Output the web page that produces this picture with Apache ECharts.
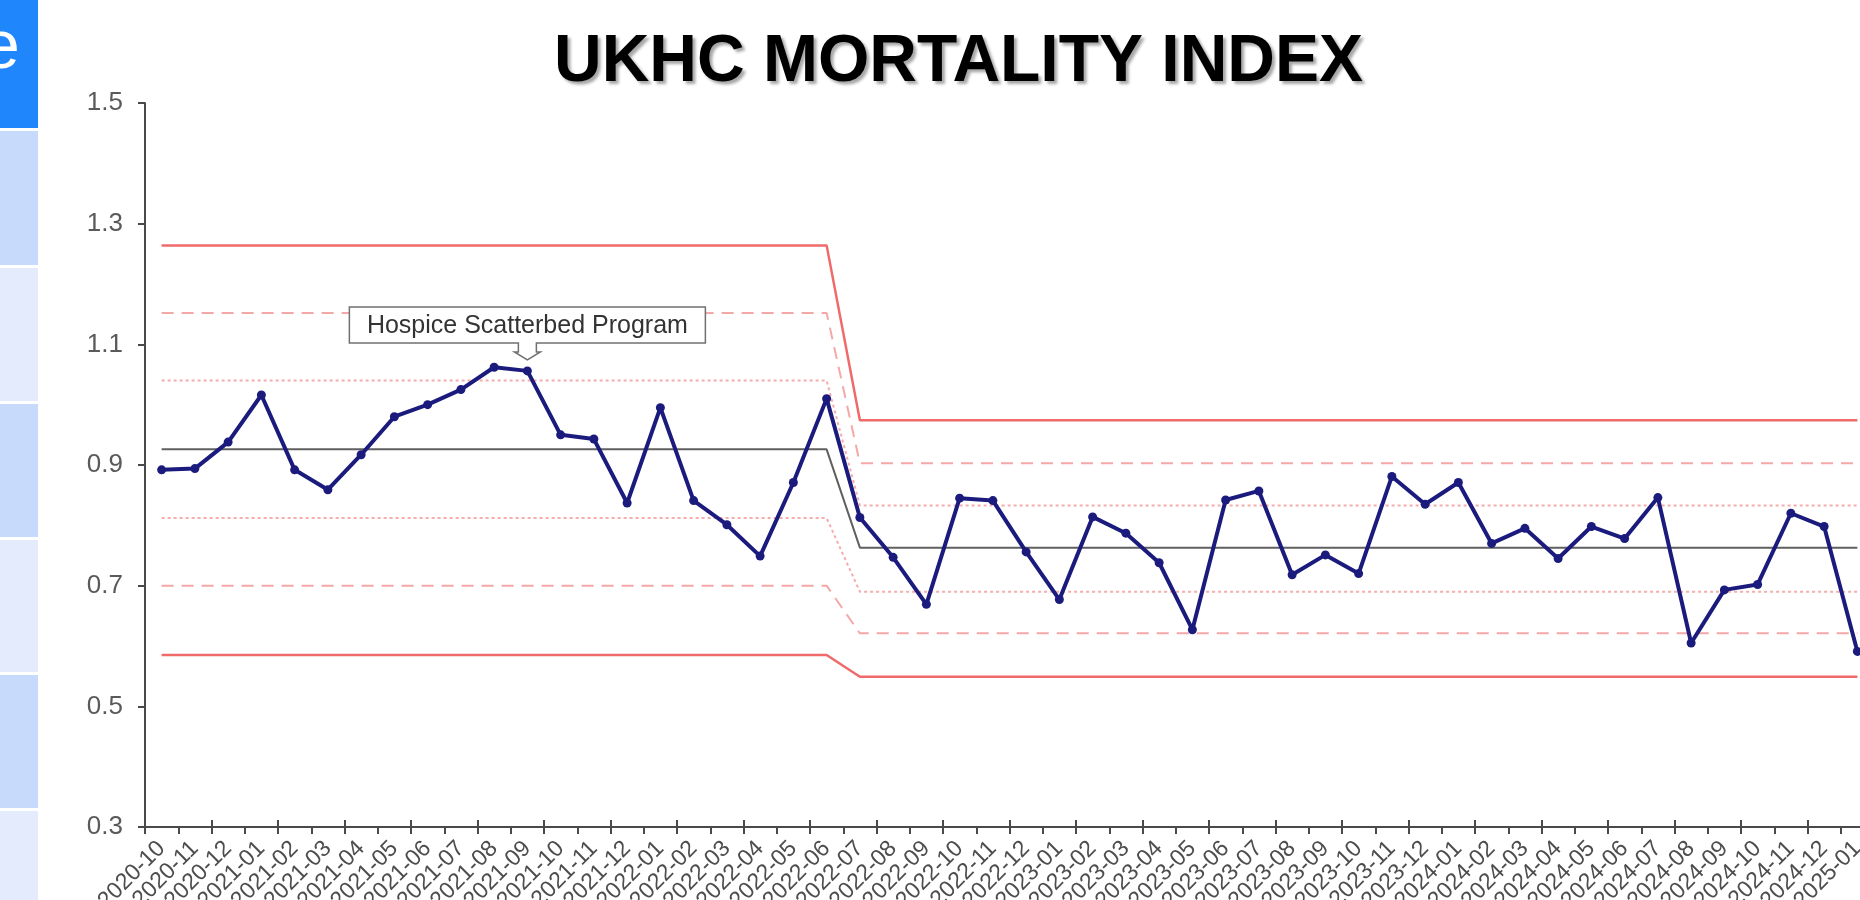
<!DOCTYPE html>
<html lang="en">

<head>
	<meta charset="UTF-8">
	<title>UKHC Mortality Index</title>
	<script src="https://cdn.jsdelivr.net/npm/echarts@6/dist/echarts.min.js"></script>
	<style>
		html, body { margin: 0; padding: 0; background: #fff; overflow: hidden; }
	</style>
</head>

<body>
	<div id="main" style="width: 1860px;height: 900px;"></div>

	<script>
		// months on the x axis
		const months = [
			'2020-10', '2020-11', '2020-12',
			'2021-01', '2021-02', '2021-03', '2021-04', '2021-05', '2021-06',
			'2021-07', '2021-08', '2021-09', '2021-10', '2021-11', '2021-12',
			'2022-01', '2022-02', '2022-03', '2022-04', '2022-05', '2022-06',
			'2022-07', '2022-08', '2022-09', '2022-10', '2022-11', '2022-12',
			'2023-01', '2023-02', '2023-03', '2023-04', '2023-05', '2023-06',
			'2023-07', '2023-08', '2023-09', '2023-10', '2023-11', '2023-12',
			'2024-01', '2024-02', '2024-03', '2024-04', '2024-05', '2024-06',
			'2024-07', '2024-08', '2024-09', '2024-10', '2024-11', '2024-12',
			'2025-01'
		];
		// mortality index, one value per month
		const mortality = [
			0.892, 0.894, 0.938,
			1.016, 0.892, 0.859, 0.917, 0.980, 1.000,
			1.025, 1.062, 1.056, 0.950, 0.943, 0.837,
			0.995, 0.841, 0.801, 0.749, 0.871, 1.010,
			0.813, 0.747, 0.669, 0.845, 0.841, 0.756,
			0.677, 0.814, 0.787, 0.738, 0.627, 0.842,
			0.857, 0.718, 0.751, 0.720, 0.881, 0.835,
			0.871, 0.770, 0.795, 0.745, 0.798, 0.778,
			0.846, 0.605, 0.693, 0.702, 0.820, 0.798,
			0.591
		];

		// control limits, one value per phase (phase 2 starts at 2022-07)
		const phase2Start = '2022-07';
		const centerLine = [0.926, 0.763];
		const upperLimit = [1.264, 0.974];
		const upper2Sigma = [1.152, 0.903];
		const upper1Sigma = [1.040, 0.833];
		const lower1Sigma = [0.812, 0.690];
		const lower2Sigma = [0.700, 0.621];
		const lowerLimit = [0.585, 0.549];

		const yTicks = [0.3, 0.5, 0.7, 0.9, 1.1, 1.3, 1.5];

		const annotationText = 'Hospice Scatterbed Program';
		const annotationMonth = '2021-09';

		const FONT = '"Liberation Sans", Arial, sans-serif';

		function byPhase(vals) {
			return months.map(function (m) {
				return m >= phase2Start ? vals[1] : vals[0];
			});
		}

		function limitSeries(name, vals, color, type, width) {
			return {
				name: name,
				type: 'line',
				data: byPhase(vals),
				symbol: 'none',
				silent: true,
				z: 2,
				lineStyle: { color: color, width: width, type: type }
			};
		}

		var chartDom = document.getElementById('main');
		var myChart = echarts.init(chartDom, null, { renderer: 'canvas' });

		// slide sidebar on the left edge
		const sidebar = [
			{ id: 'sb0', type: 'rect', shape: { x: 0, y: 0, width: 38, height: 128 }, style: { fill: '#1f86fb' }, silent: true },
			{ id: 'sb1', type: 'rect', shape: { x: 0, y: 131, width: 38, height: 134 }, style: { fill: '#c8dafc' }, silent: true },
			{ id: 'sb2', type: 'rect', shape: { x: 0, y: 268, width: 38, height: 133 }, style: { fill: '#e3ebfd' }, silent: true },
			{ id: 'sb3', type: 'rect', shape: { x: 0, y: 404, width: 38, height: 133 }, style: { fill: '#c8dafc' }, silent: true },
			{ id: 'sb4', type: 'rect', shape: { x: 0, y: 540, width: 38, height: 132 }, style: { fill: '#e3ebfd' }, silent: true },
			{ id: 'sb5', type: 'rect', shape: { x: 0, y: 675, width: 38, height: 133 }, style: { fill: '#c8dafc' }, silent: true },
			{ id: 'sb6', type: 'rect', shape: { x: 0, y: 811, width: 38, height: 89 }, style: { fill: '#e3ebfd' }, silent: true },
			{
				id: 'sbText', type: 'text', x: -18, y: 49, silent: true,
				style: { text: 'e', fill: '#fff', font: '68px ' + FONT, textAlign: 'left', textVerticalAlign: 'middle' }
			}
		];

		var option = {
			animation: false,
			backgroundColor: '#fff',
			textStyle: { fontFamily: FONT },
			title: {
				text: 'UKHC MORTALITY INDEX',
				left: 549,
				top: 25,
				textStyle: {
					fontFamily: FONT,
					fontSize: 66,
					fontWeight: 'bold',
					color: '#000',
					textShadowColor: 'rgba(0,0,0,0.35)',
					textShadowBlur: 3,
					textShadowOffsetX: 3,
					textShadowOffsetY: 3
				}
			},
			graphic: sidebar,
			grid: {
				left: 145,
				top: 103,
				width: 1729,
				height: 724,
				outerBoundsMode: 'none',
				containLabel: false
			},
			xAxis: [
				{
					type: 'category',
					data: months,
					boundaryGap: true,
					axisLine: { lineStyle: { color: '#4a4a4a', width: 2 } },
					axisTick: { show: true, length: 7, lineStyle: { color: '#4a4a4a', width: 2 } },
					axisLabel: {
						interval: 0,
						rotate: 45,
						margin: 18,
						fontSize: 23,
						color: '#4d4d4d',
						fontFamily: FONT
					},
					splitLine: { show: false }
				},
				{
					// second axis only to draw the tick marks above the line too
					type: 'category',
					data: months,
					position: 'bottom',
					boundaryGap: true,
					axisLine: { show: false },
					axisTick: { show: true, inside: true, length: 7, lineStyle: { color: '#4a4a4a', width: 2 } },
					axisLabel: { show: false },
					splitLine: { show: false }
				}
			],
			yAxis: {
				type: 'value',
				min: yTicks[0],
				max: yTicks[yTicks.length - 1],
				interval: 0.2,
				axisLine: { show: true, lineStyle: { color: '#4a4a4a', width: 2 } },
				axisTick: { show: true, length: 7, lineStyle: { color: '#4a4a4a', width: 2 } },
				axisLabel: {
					margin: 22,
					fontSize: 26,
					color: '#5a5a5a',
					fontFamily: FONT,
					formatter: function (v) { return v.toFixed(1); }
				},
				splitLine: { show: false }
			},
			series: [
				limitSeries('UCL', upperLimit, '#f06a6a', 'solid', 2.5),
				limitSeries('+2 sigma', upper2Sigma, '#f5a8a8', [12, 8], 2),
				limitSeries('+1 sigma', upper1Sigma, '#f5acac', [3, 3], 2),
				limitSeries('CL', centerLine, '#606060', 'solid', 2),
				limitSeries('-1 sigma', lower1Sigma, '#f5acac', [3, 3], 2),
				limitSeries('-2 sigma', lower2Sigma, '#f5a8a8', [12, 8], 2),
				limitSeries('LCL', lowerLimit, '#f06a6a', 'solid', 2.5),
				{
					name: 'Mortality Index',
					type: 'line',
					data: mortality,
					z: 5,
					symbol: 'circle',
					symbolSize: 9,
					itemStyle: { color: '#1b1b7e' },
					lineStyle: { color: '#1b1b7e', width: 4 }
				}
			]
		};

		myChart.setOption(option);

		// callout box pointing at the annotated month, placed from the axis scales
		const annIdx = months.indexOf(annotationMonth);
		const annPt = myChart.convertToPixel({ gridIndex: 0 }, [annotationMonth, mortality[annIdx]]);
		const cx = annPt[0];
		const tipY = annPt[1] - 11;
		const boxBot = tipY - 17;
		const boxTop = boxBot - 36;
		const halfW = 178;
		const callout = [
			{
				id: 'calloutBox', type: 'polygon', z: 100, silent: true,
				shape: {
					points: [
						[cx - halfW, boxTop], [cx + halfW, boxTop], [cx + halfW, boxBot],
						[cx + 9, boxBot], [cx + 9, boxBot + 9], [cx + 13, boxBot + 9], [cx, tipY],
						[cx - 13, boxBot + 9], [cx - 9, boxBot + 9], [cx - 9, boxBot], [cx - halfW, boxBot]
					]
				},
				style: { fill: '#fff', stroke: '#707070', lineWidth: 1.5 }
			},
			{
				id: 'calloutText', type: 'text', z: 101, silent: true,
				x: cx, y: (boxTop + boxBot) / 2 + 1,
				style: {
					text: annotationText, fill: '#333', font: '25px ' + FONT,
					textAlign: 'center', textVerticalAlign: 'middle'
				}
			}
		];
		myChart.setOption({ graphic: sidebar.concat(callout) });
	</script>
</body>

</html>
